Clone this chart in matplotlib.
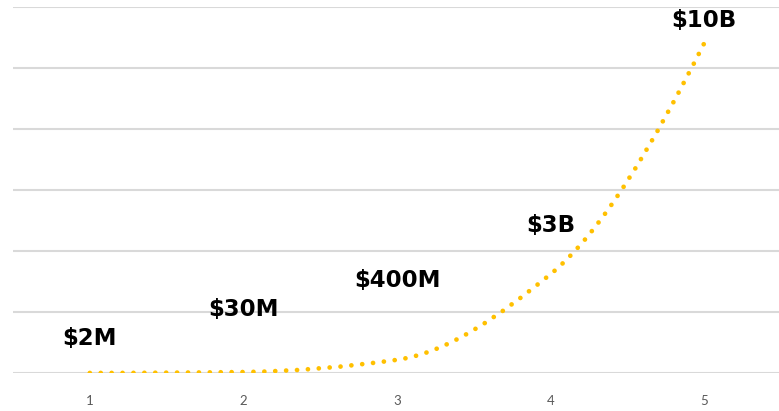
import numpy as np
import matplotlib
matplotlib.use("Agg")
import matplotlib.pyplot as plt
from matplotlib.path import Path
from matplotlib.patches import PathPatch

# ---- data ----
years = [1, 2, 3, 4, 5]
values = [2e6, 30e6, 400e6, 3e9, 10e9]
labels = ["$2M", "$30M", "$400M", "$3B", "$10B"]

# ---- layout (label placement, pixels above the axis baseline) ----
label_offsets_px = [35, 64, 93, 148, 353]

fig = plt.figure(figsize=(7.79, 4.11), dpi=100)
ax = fig.add_axes([13/779, 38/411, 768/779, 366/411])

ymax = 11.1e9
ax.set_xlim(0.5, 5.5)
ax.set_ylim(0, ymax)
ax.set_yticks(np.linspace(0, ymax, 7))
ax.yaxis.grid(True, color="#d9d9d9", linewidth=1.5)
ax.set_axisbelow(True)
ax.tick_params(axis="y", left=False, labelleft=False)
ax.set_xticks(years)
ax.set_xticklabels([str(y) for y in years], family=["Lato", "DejaVu Sans"])
ax.tick_params(axis="x", bottom=False, labelsize=9.5, labelcolor="#595959", pad=12)
for s in ax.spines.values():
    s.set_visible(False)

# smoothed line: monotone cubic Hermite drawn as Bezier segments
x = np.asarray(years, dtype=float)
y = np.asarray(values, dtype=float)
h = np.diff(x)
d = np.diff(y) / h
n = len(x)
m = np.zeros(n)
for i in range(1, n - 1):
    if d[i - 1] * d[i] > 0:
        w1 = 2 * h[i] + h[i - 1]
        w2 = h[i] + 2 * h[i - 1]
        m[i] = (w1 + w2) / (w1 / d[i - 1] + w2 / d[i])
m[0] = ((2 * h[0] + h[1]) * d[0] - h[0] * d[1]) / (h[0] + h[1])
if np.sign(m[0]) != np.sign(d[0]):
    m[0] = 0
m[-1] = ((2 * h[-1] + h[-2]) * d[-1] - h[-1] * d[-2]) / (h[-1] + h[-2])
if np.sign(m[-1]) != np.sign(d[-1]):
    m[-1] = 0
verts = [(x[0], y[0])]
codes = [Path.MOVETO]
for i in range(n - 1):
    c1 = (x[i] + h[i] / 3, y[i] + m[i] * h[i] / 3)
    c2 = (x[i + 1] - h[i] / 3, y[i + 1] - m[i + 1] * h[i] / 3)
    verts += [c1, c2, (x[i + 1], y[i + 1])]
    codes += [Path.CURVE4] * 3
patch = PathPatch(Path(verts, codes), facecolor="none", edgecolor="#FFC000",
                  linewidth=3.4, linestyle=(0, (0.01, 2.3)), capstyle="round")
ax.add_patch(patch)

for xi, lab, off in zip(years, labels, label_offsets_px):
    ax.annotate(lab, xy=(xi, 0), xytext=(0, off * 0.72), textcoords="offset points",
                ha="center", va="center", fontsize=16.5, fontweight="bold",
                family=["DejaVu Sans"], color="#000000")

fig.savefig("out.png", dpi=100)
